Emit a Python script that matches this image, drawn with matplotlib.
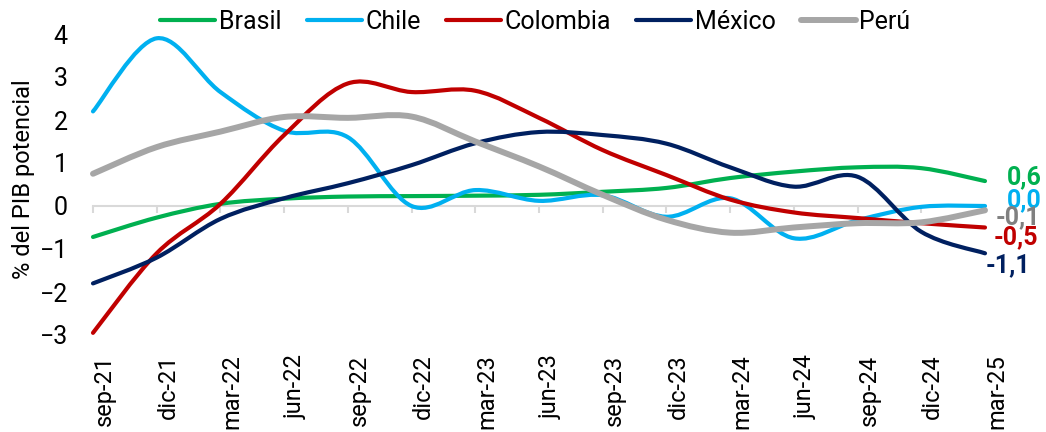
import matplotlib.pyplot as plt
import numpy as np
from matplotlib.path import Path
from matplotlib.patches import PathPatch
from matplotlib.lines import Line2D

plt.rcParams['font.family'] = ['Roboto', 'DejaVu Sans']

# trimestres sep-21 .. mar-25
fechas = ['sep-21', 'dic-21', 'mar-22', 'jun-22', 'sep-22', 'dic-22', 'mar-23',
          'jun-23', 'sep-23', 'dic-23', 'mar-24', 'jun-24', 'sep-24', 'dic-24', 'mar-25']

brasil = [-0.72, -0.27, 0.05, 0.17, 0.22, 0.23, 0.24, 0.26, 0.33, 0.42, 0.65, 0.80, 0.90, 0.88, 0.58]
chile = [2.20, 3.90, 2.65, 1.75, 1.60, 0.00, 0.37, 0.12, 0.25, -0.25, 0.18, -0.75, -0.33, -0.02, 0.00]
colombia = [-2.95, -1.10, 0.05, 1.65, 2.85, 2.65, 2.68, 2.05, 1.30, 0.72, 0.15, -0.15, -0.28, -0.40, -0.50]
mexico = [-1.80, -1.20, -0.30, 0.18, 0.53, 0.95, 1.46, 1.72, 1.65, 1.45, 0.90, 0.45, 0.68, -0.60, -1.10]
peru = [0.75, 1.37, 1.73, 2.07, 2.05, 2.08, 1.50, 0.92, 0.26, -0.32, -0.62, -0.50, -0.40, -0.38, -0.10]

# nombre, valores, color linea, color etiqueta, grosor, desplazamiento etiqueta (px)
series = [
    ('Brasil', brasil, '#00B050', '#00B050', 3.0, (22, 4)),
    ('Chile', chile, '#00B0F0', '#00B0F0', 3.0, (22, 6)),
    ('Colombia', colombia, '#C00000', '#C00000', 3.0, (9, -10)),
    ('México', mexico, '#002060', '#002060', 3.0, (1, -12)),
    ('Perú', peru, '#A6A6A6', '#808080', 4.3, (11, -7)),
]


def smooth_path(xs, ys):
    # curva suavizada tipo Excel (Catmull-Rom como Bezier cubica)
    pts = np.column_stack([xs, ys]).astype(float)
    n = len(pts)
    verts = [pts[0]]
    codes = [Path.MOVETO]
    for i in range(n - 1):
        p0 = pts[max(i - 1, 0)]
        p1 = pts[i]
        p2 = pts[i + 1]
        p3 = pts[min(i + 2, n - 1)]
        c1 = p1 + (p2 - p0) / 6
        c2 = p2 - (p3 - p1) / 6
        verts += [c1, c2, p2]
        codes += [Path.CURVE4] * 3
    return Path(verts, codes)


fig = plt.figure(figsize=(10.46, 4.32), dpi=100)
ax = fig.add_axes([93 / 1046, 1 - 335 / 432, 892 / 1046, 301 / 432])

x = np.arange(len(fechas))
handles = []
for nombre, vals, color, tcolor, lw, off in series:
    patch = PathPatch(smooth_path(x, vals), facecolor='none', edgecolor=color,
                      lw=lw, capstyle='round', joinstyle='round', zorder=3, clip_on=False)
    ax.add_patch(patch)
    handles.append(Line2D([], [], color=color, lw=lw, solid_capstyle='round', label=nombre))
    ax.annotate(f'{vals[-1]:.1f}'.replace('.', ','), xy=(x[-1], vals[-1]),
                xytext=off, textcoords='offset pixels',
                ha='left', va='center', fontsize=18, fontweight='bold', color=tcolor)

ax.set_xlim(0, len(fechas) - 1)
ax.set_ylim(-3, 4)
ax.set_yticks(range(-3, 5))
ax.tick_params(axis='y', length=0, pad=18, labelsize=18)

# eje de categorias en y=0 con marcas
for s in ['left', 'right', 'top']:
    ax.spines[s].set_visible(False)
ax.spines['bottom'].set_position(('data', 0))
ax.spines['bottom'].set_color('#D9D9D9')
ax.spines['bottom'].set_linewidth(1.5)
ax.spines['bottom'].set_zorder(1)
ax.set_axisbelow(True)
ax.set_xticks(x)
ax.tick_params(axis='x', direction='out', length=5, width=1.5, color='#D9D9D9',
               labelbottom=False)

sec = ax.secondary_xaxis('bottom')
sec.set_xticks(x, fechas, rotation=90, ha='left')
sec.spines['bottom'].set_visible(False)
sec.tick_params(length=0, pad=14, labelsize=17)

fig.text(0.022, 0.585, '% del PIB potencial', rotation=90, ha='center', va='center',
         fontsize=17)

fig.legend(handles=handles, loc='center', bbox_to_anchor=(0.512, 0.949), ncol=5,
           frameon=False, fontsize=18, handlelength=2.2, handletextpad=0.15,
           columnspacing=1.0)

fig.savefig('out.png', dpi=100, facecolor='white')
